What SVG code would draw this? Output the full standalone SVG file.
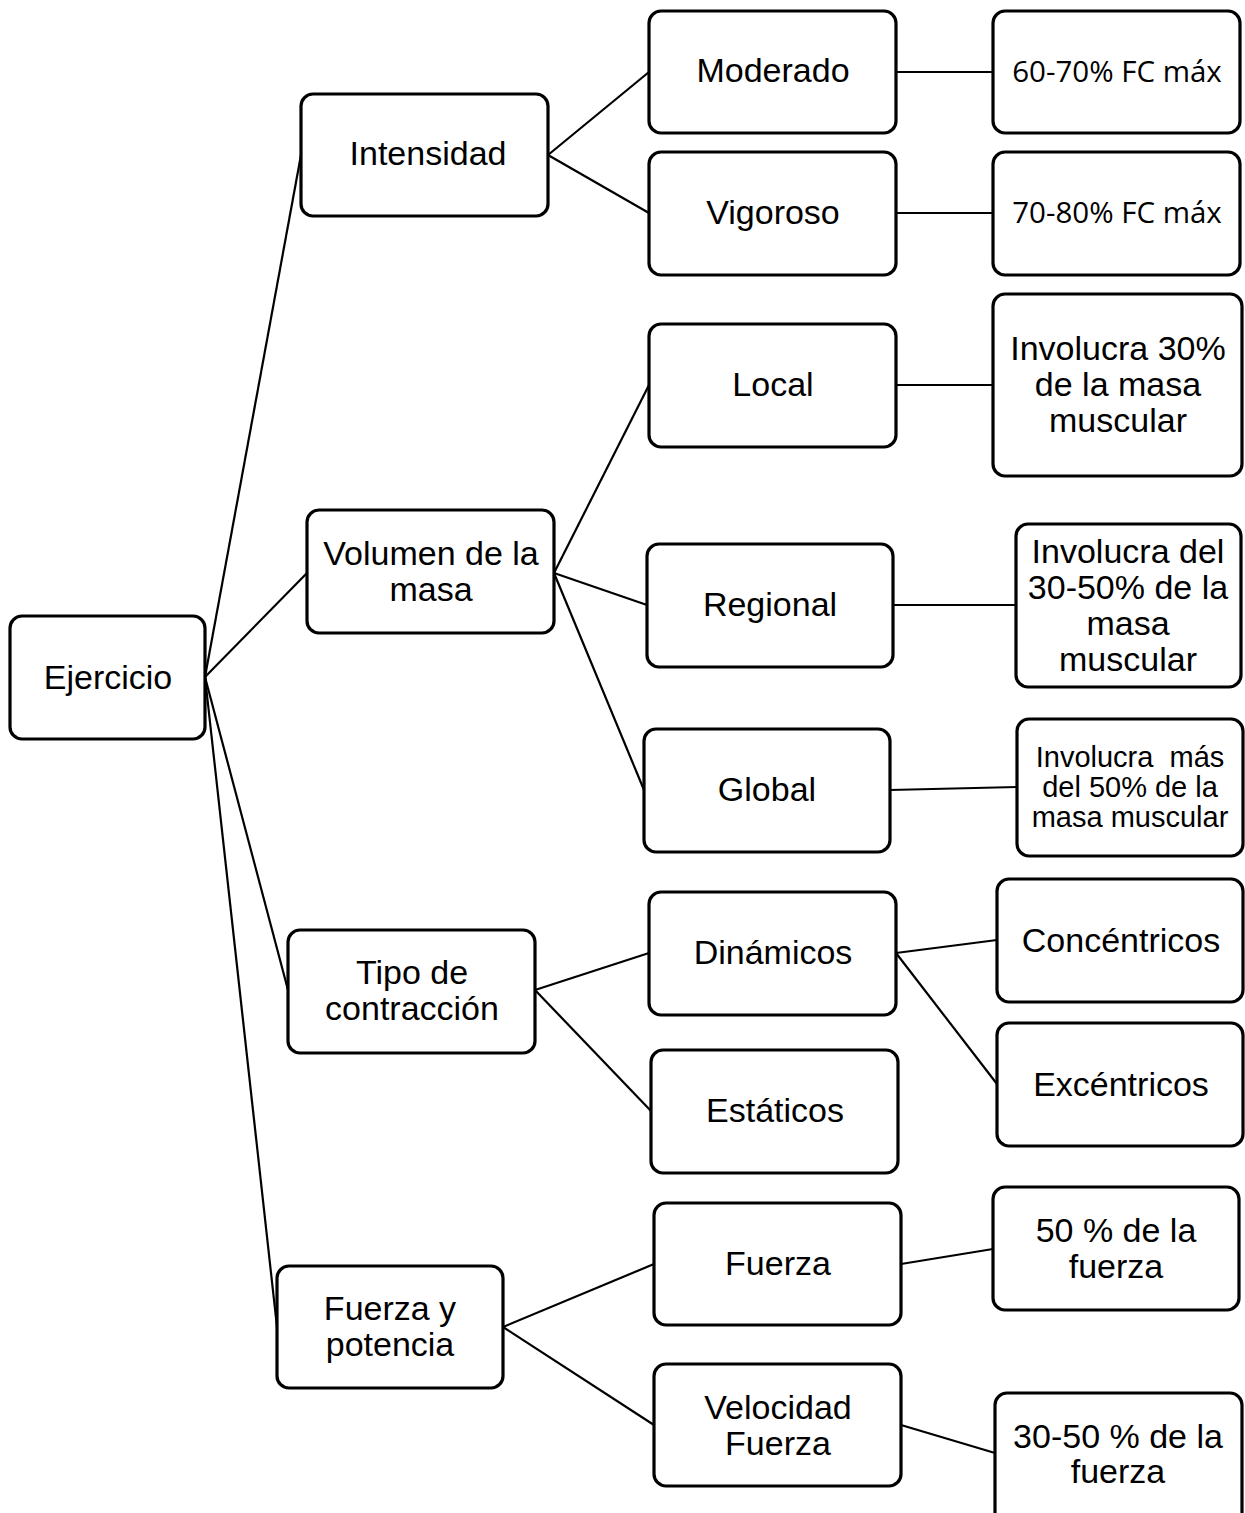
<svg xmlns="http://www.w3.org/2000/svg" width="1245" height="1513" viewBox="0 0 1245 1513">
<style>
.b{fill:#fff;stroke:#000;stroke-width:3.2}
.t{font-family:"Liberation Sans",Arial,sans-serif;font-size:34px;fill:#000;text-anchor:middle}
.s{font-size:29px}
.c{font-family:"Open Sans","Noto Sans",sans-serif;font-size:29.5px}
#conn line{stroke:#000;stroke-width:2.2}
</style>
<rect width="1245" height="1513" fill="#fff"/>
<g id="conn">
<line x1="205" y1="677" x2="301" y2="155"/>
<line x1="205" y1="677" x2="307" y2="573"/>
<line x1="205" y1="677" x2="288" y2="990"/>
<line x1="205" y1="677" x2="277" y2="1327"/>
<line x1="548" y1="155" x2="649" y2="72"/>
<line x1="548" y1="155" x2="649" y2="213"/>
<line x1="554" y1="573" x2="649" y2="385"/>
<line x1="554" y1="573" x2="647" y2="605"/>
<line x1="554" y1="573" x2="644" y2="790"/>
<line x1="535" y1="990" x2="649" y2="953"/>
<line x1="535" y1="990" x2="651" y2="1111"/>
<line x1="503" y1="1327" x2="654" y2="1264"/>
<line x1="503" y1="1327" x2="654" y2="1425"/>
<line x1="896" y1="72" x2="993" y2="72"/>
<line x1="896" y1="213" x2="993" y2="213"/>
<line x1="896" y1="385" x2="993" y2="385"/>
<line x1="893" y1="605" x2="1016" y2="605"/>
<line x1="890" y1="790" x2="1017" y2="787"/>
<line x1="896" y1="953" x2="997" y2="940"/>
<line x1="896" y1="953" x2="997" y2="1084"/>
<line x1="901" y1="1264" x2="993" y2="1249"/>
<line x1="901" y1="1425" x2="995" y2="1453"/>
</g>
<g id="ejercicio"><rect class="b" x="10" y="616" width="195" height="123" rx="12"/><text class="t" x="108" y="689">Ejercicio</text></g>
<g id="intensidad"><rect class="b" x="301" y="94" width="247" height="122" rx="12"/><text class="t" x="428" y="165">Intensidad</text></g>
<g id="volumen"><rect class="b" x="307" y="510" width="247" height="123" rx="12"/><text class="t" x="431" y="565">Volumen de la</text><text class="t" x="431" y="601">masa</text></g>
<g id="tipo"><rect class="b" x="288" y="930" width="247" height="123" rx="12"/><text class="t" x="412" y="984">Tipo de</text><text class="t" x="412" y="1020">contracción</text></g>
<g id="fuerzapot"><rect class="b" x="277" y="1266" width="226" height="122" rx="12"/><text class="t" x="390" y="1320">Fuerza y</text><text class="t" x="390" y="1356">potencia</text></g>
<g id="moderado"><rect class="b" x="649" y="11" width="247" height="122" rx="12"/><text class="t" x="773" y="82">Moderado</text></g>
<g id="vigoroso"><rect class="b" x="649" y="152" width="247" height="123" rx="12"/><text class="t" x="773" y="224">Vigoroso</text></g>
<g id="local"><rect class="b" x="649" y="324" width="247" height="123" rx="12"/><text class="t" x="773" y="396">Local</text></g>
<g id="regional"><rect class="b" x="647" y="544" width="246" height="123" rx="12"/><text class="t" x="770" y="616">Regional</text></g>
<g id="global"><rect class="b" x="644" y="729" width="246" height="123" rx="12"/><text class="t" x="767" y="801">Global</text></g>
<g id="dinamicos"><rect class="b" x="649" y="892" width="247" height="123" rx="12"/><text class="t" x="773" y="964">Dinámicos</text></g>
<g id="estaticos"><rect class="b" x="651" y="1050" width="247" height="123" rx="12"/><text class="t" x="775" y="1122">Estáticos</text></g>
<g id="fuerza"><rect class="b" x="654" y="1203" width="247" height="122" rx="12"/><text class="t" x="778" y="1275">Fuerza</text></g>
<g id="velocidad"><rect class="b" x="654" y="1364" width="247" height="122" rx="12"/><text class="t" x="778" y="1419">Velocidad</text><text class="t" x="778" y="1455">Fuerza</text></g>
<g id="fc6070"><rect class="b" x="993" y="11" width="247" height="122" rx="12"/><text class="t c" x="1117" y="82">60-70% FC máx</text></g>
<g id="fc7080"><rect class="b" x="993" y="152" width="247" height="123" rx="12"/><text class="t c" x="1117" y="223">70-80% FC máx</text></g>
<g id="inv30"><rect class="b" x="993" y="294" width="249" height="182" rx="12"/><text class="t" x="1118" y="360">Involucra 30%</text><text class="t" x="1118" y="396">de la masa</text><text class="t" x="1118" y="432">muscular</text></g>
<g id="inv3050"><rect class="b" x="1016" y="524" width="225" height="163" rx="12"/><text class="t" x="1128" y="563">Involucra del</text><text class="t" x="1128" y="599">30-50% de la</text><text class="t" x="1128" y="635">masa</text><text class="t" x="1128" y="671">muscular</text></g>
<g id="invmas"><rect class="b" x="1017" y="719" width="226" height="137" rx="12"/><text class="t s" x="1130" y="767">Involucra&#160; más</text><text class="t s" x="1130" y="797">del 50% de la</text><text class="t s" x="1130" y="827">masa muscular</text></g>
<g id="concentricos"><rect class="b" x="997" y="879" width="246" height="123" rx="12"/><text class="t" x="1121" y="952">Concéntricos</text></g>
<g id="excentricos"><rect class="b" x="997" y="1023" width="246" height="123" rx="12"/><text class="t" x="1121" y="1096">Excéntricos</text></g>
<g id="f50"><rect class="b" x="993" y="1187" width="246" height="123" rx="12"/><text class="t" x="1116" y="1242">50 % de la</text><text class="t" x="1116" y="1278">fuerza</text></g>
<g id="f3050"><rect class="b" x="995" y="1393" width="247" height="135" rx="12"/><text class="t" x="1118" y="1448">30-50 % de la</text><text class="t" x="1118" y="1483">fuerza</text></g>
</svg>
